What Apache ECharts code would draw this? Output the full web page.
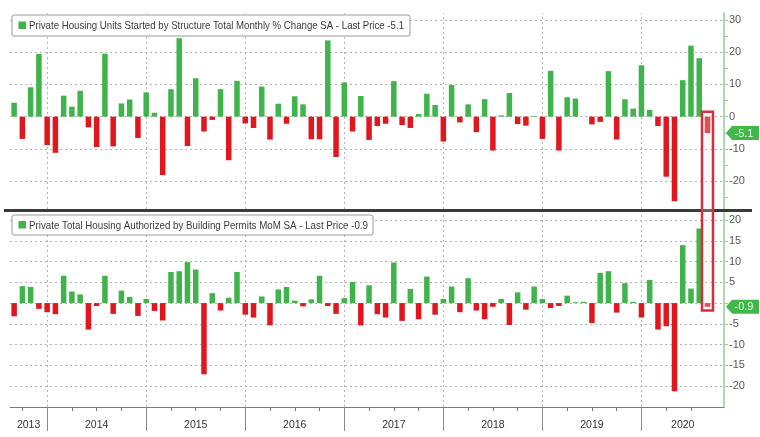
<!DOCTYPE html>
<html><head><meta charset="utf-8">
<script src="https://cdn.jsdelivr.net/npm/echarts@6/dist/echarts.min.js"></script>
<style>html,body{margin:0;padding:0;background:#fff}#c{width:760px;height:437px}</style>
</head><body><div id="c"></div>
<script>
// ---- data ----
const months = [
 '2013-08','2013-09','2013-10','2013-11','2013-12',
 '2014-01','2014-02','2014-03','2014-04','2014-05','2014-06','2014-07','2014-08','2014-09','2014-10','2014-11','2014-12',
 '2015-01','2015-02','2015-03','2015-04','2015-05','2015-06','2015-07','2015-08','2015-09','2015-10','2015-11','2015-12',
 '2016-01','2016-02','2016-03','2016-04','2016-05','2016-06','2016-07','2016-08','2016-09','2016-10','2016-11','2016-12',
 '2017-01','2017-02','2017-03','2017-04','2017-05','2017-06','2017-07','2017-08','2017-09','2017-10','2017-11','2017-12',
 '2018-01','2018-02','2018-03','2018-04','2018-05','2018-06','2018-07','2018-08','2018-09','2018-10','2018-11','2018-12',
 '2019-01','2019-02','2019-03','2019-04','2019-05','2019-06','2019-07','2019-08','2019-09','2019-10','2019-11','2019-12',
 '2020-01','2020-02','2020-03','2020-04','2020-05','2020-06','2020-07','2020-08'
];
const startsChange = [
 4.3,-6.9,9.1,19.4,-8.8,
 -11.2,6.5,3.1,8.0,-3.3,-9.4,19.5,-9.2,4.1,5.3,-6.6,7.5,
 1.2,-18.1,8.5,24.3,-9.1,11.9,-4.6,-1.0,8.5,-13.5,11.1,-2.1,
 -3.5,9.3,-7.1,4.0,-2.2,6.3,3.8,-7.0,-7.0,23.6,-12.5,10.6,
 -4.6,6.4,-7.2,-2.9,-2.2,11.0,-2.6,-3.5,0.8,7.1,3.6,-7.7,
 9.8,-1.8,3.8,-4.8,5.4,-10.5,0.4,7.3,-2.3,-2.8,0.2,-6.9,
 14.2,-10.5,6.0,5.6,0.0,-2.4,-1.6,14.1,-7.1,5.4,2.5,15.9,
 2.1,-2.9,-18.6,-26.2,11.3,22.0,18.1,-5.1
];
const permitsChange = [
 -3.2,4.1,3.9,-1.4,-2.2,
 -2.7,6.6,2.8,2.1,-6.4,-0.7,6.6,-2.6,3.0,1.5,-3.1,1.0,
 -1.9,-4.2,7.5,7.7,9.9,8.1,-17.2,2.4,-1.8,1.3,7.5,-2.8,
 -3.5,1.6,-5.4,3.3,3.9,0.6,-0.8,0.9,6.6,-0.7,-2.6,1.2,
 5.1,-5.4,4.3,-2.7,-3.5,9.8,-4.3,3.4,-3.9,6.4,-2.8,1.0,
 4.0,-2.2,6.0,-1.8,-3.9,-0.9,1.0,-5.3,2.6,-1.6,4.0,1.0,
 -1.2,-0.7,1.8,0.2,0.3,-4.8,7.3,7.7,-2.3,4.8,0.3,-3.5,
 5.6,-6.4,-5.6,-21.3,14.0,3.5,18.0,-0.9
];
const startsTitle = 'Private Housing Units Started by Structure Total Monthly % Change SA - Last Price -5.1';
const permitsTitle = 'Private Total Housing Authorized by Building Permits MoM SA - Last Price -0.9';
const startsLast = '-5.1';
const permitsLast = '-0.9';
const startsLabels = [30, 20, 10, 0, -10, -20];
const startsTicks = [30, 25, 20, 15, 10, 5, 0, -5, -10, -15, -20, -25];
const permitsLabels = [20, 15, 10, 5, -5, -10, -15, -20];
const permitsTicks = [20, 15, 10, 5, 0, -5, -10, -15, -20];
const years = ['2013','2014','2015','2016','2017','2018','2019','2020'];

// ---- styling / layout ----
const GREEN = '#3fb44a', RED = '#e0171f', GRID = '#b4b4b4';
const AXIS_GREEN = '#8fcf8f';
const X_MIN = -0.5, X_MAX = 86;

const decIdx = months.map((m, i) => m.endsWith('-12') ? i : -1).filter(i => i >= 0);
const qIdx = months.map((m, i) => /-(03|06|09|12)$/.test(m) ? i : -1).filter(i => i >= 0);
const yearMid = {};
const yearPos = years.map(y => {
  const lo = decIdx.find(i => months[i] === (+y - 1) + '-12');
  const hi = decIdx.find(i => months[i] === y + '-12');
  const v = ((lo === undefined ? X_MIN : lo) + (hi === undefined ? X_MAX : hi)) / 2;
  yearMid[v.toFixed(2)] = y;
  return v;
});

function barData(arr) {
  return arr.map((v, i) => ({ value: [i, v], itemStyle: { color: v >= 0 ? GREEN : RED } }));
}
const dotted = { type: [2, 3], color: GRID, width: 1 };
function gridLines(vals) {
  return {
    silent: true, symbol: 'none', z: 1, animation: false,
    label: { show: false }, lineStyle: dotted,
    emphasis: { disabled: true },
    data: vals.map(v => ({ yAxis: v })).concat(decIdx.map(i => ({ xAxis: i })))
  };
}
function yAx(gi, min, max, labels, ticks) {
  return {
    type: 'value', gridIndex: gi, position: 'right', min, max,
    axisLine: { show: true, onZero: false, lineStyle: { color: AXIS_GREEN, width: 1.5 } },
    axisTick: { show: true, customValues: ticks, length: 4, lineStyle: { color: '#9acb9a' } },
    axisLabel: { customValues: labels, color: '#555', fontSize: 11, margin: 5, fontFamily: 'Liberation Sans' },
    splitLine: { show: false }
  };
}

const chart = echarts.init(document.getElementById('c'), null, { renderer: 'canvas' });
chart.setOption({
  animation: false,
  backgroundColor: '#fff',
  grid: [
    { left: 10, right: 36, top: 13, height: 196 },
    { left: 10, right: 36, top: 212, height: 195 }
  ],
  xAxis: [
    { type: 'value', gridIndex: 0, min: X_MIN, max: X_MAX, show: false, splitLine: { show: false } },
    { type: 'value', gridIndex: 1, min: X_MIN, max: X_MAX, position: 'bottom',
      axisLine: { show: true, onZero: false, lineStyle: { color: '#7a7a7a', width: 1 } },
      axisTick: { show: true, customValues: qIdx, length: 4, lineStyle: { color: '#7a7a7a' } },
      axisLabel: { show: false }, splitLine: { show: false } },
    { type: 'value', gridIndex: 1, min: X_MIN, max: X_MAX, position: 'bottom',
      axisLine: { show: false, onZero: false },
      axisTick: { show: true, customValues: decIdx, length: 24, lineStyle: { color: '#8a8a8a' } },
      axisLabel: { show: true, customValues: yearPos, margin: 13, color: '#333', fontSize: 10.5,
        fontFamily: 'Liberation Sans',
        formatter: v => yearMid[(+v).toFixed(2)] || '' },
      splitLine: { show: false } }
  ],
  yAxis: [
    yAx(0, -28.6, 32.1, startsLabels, startsTicks),
    yAx(1, -25.1, 22, permitsLabels, permitsTicks)
  ],
  series: [
    { type: 'bar', name: startsTitle, xAxisIndex: 0, yAxisIndex: 0, barWidth: 5.5, z: 3,
      data: barData(startsChange), markLine: gridLines(startsLabels) },
    { type: 'bar', name: permitsTitle, xAxisIndex: 1, yAxisIndex: 1, barWidth: 5.5, z: 3,
      data: barData(permitsChange), markLine: gridLines(permitsTicks) }
  ]
});

// ---- annotations ----
const mctx = document.createElement('canvas').getContext('2d');
function fitText(txt, size, target) {
  mctx.font = size + 'px "Liberation Sans"';
  return target / mctx.measureText(txt).width;
}
function legendBox(x, y, w, h, title, target) {
  return [
    { type: 'rect', shape: { x, y, width: w, height: h, r: 2 }, style: { fill: '#fff', stroke: '#9a9a9a', lineWidth: 1 }, z: 50 },
    { type: 'rect', shape: { x: x + 6.5, y: y + h / 2 - 4, width: 7.5, height: 7.5 }, style: { fill: GREEN }, z: 51 },
    { type: 'text', x: x + 17, y: y + h / 2 + 0.5, scaleX: fitText(title, 11, target), z: 51,
      style: { text: title, fill: '#3a3a3a', font: '11px "Liberation Sans"', textAlign: 'left', textVerticalAlign: 'middle' } }
  ];
}
function tag(yPix, txt) {
  const x0 = 726, x1 = 759, hh = 7;
  return [
    { type: 'polygon', z: 60, shape: { points: [[x0, yPix], [x0 + 6, yPix - hh], [x1, yPix - hh], [x1, yPix + hh], [x0 + 6, yPix + hh]] },
      style: { fill: '#40b84a' } },
    { type: 'text', z: 61, x: 744, y: yPix + 0.5,
      style: { text: txt, fill: '#eefbe9', font: '11px "Liberation Sans"', textAlign: 'center', textVerticalAlign: 'middle' } }
  ];
}
const lastI = months.length - 1;
const hx = chart.convertToPixel({ xAxisIndex: 0 }, lastI);
const hTop = chart.convertToPixel({ yAxisIndex: 0 }, 1.5);
const hBot = chart.convertToPixel({ yAxisIndex: 1 }, -1.8);
const sY = chart.convertToPixel({ yAxisIndex: 0 }, startsChange[lastI]);
const pY = chart.convertToPixel({ yAxisIndex: 1 }, permitsChange[lastI]);

chart.setOption({
  graphic: [].concat(
    [{ type: 'line', z: 40, shape: { x1: 4, y1: 210.5, x2: 752, y2: 210.5 }, style: { stroke: '#3a3a3a', lineWidth: 3 } }],
    legendBox(12, 15, 398, 21, startsTitle, 375),
    legendBox(12, 215, 361, 20, permitsTitle, 339),
    tag(sY, startsLast),
    tag(pY, permitsLast),
    [{ type: 'rect', z: 70, shape: { x: hx - 5.5, y: hTop, width: 11, height: hBot - hTop },
       style: { fill: 'rgba(255,235,235,0.25)', stroke: '#d3303b', lineWidth: 2.5 } }]
  )
});
</script>
</body></html>
